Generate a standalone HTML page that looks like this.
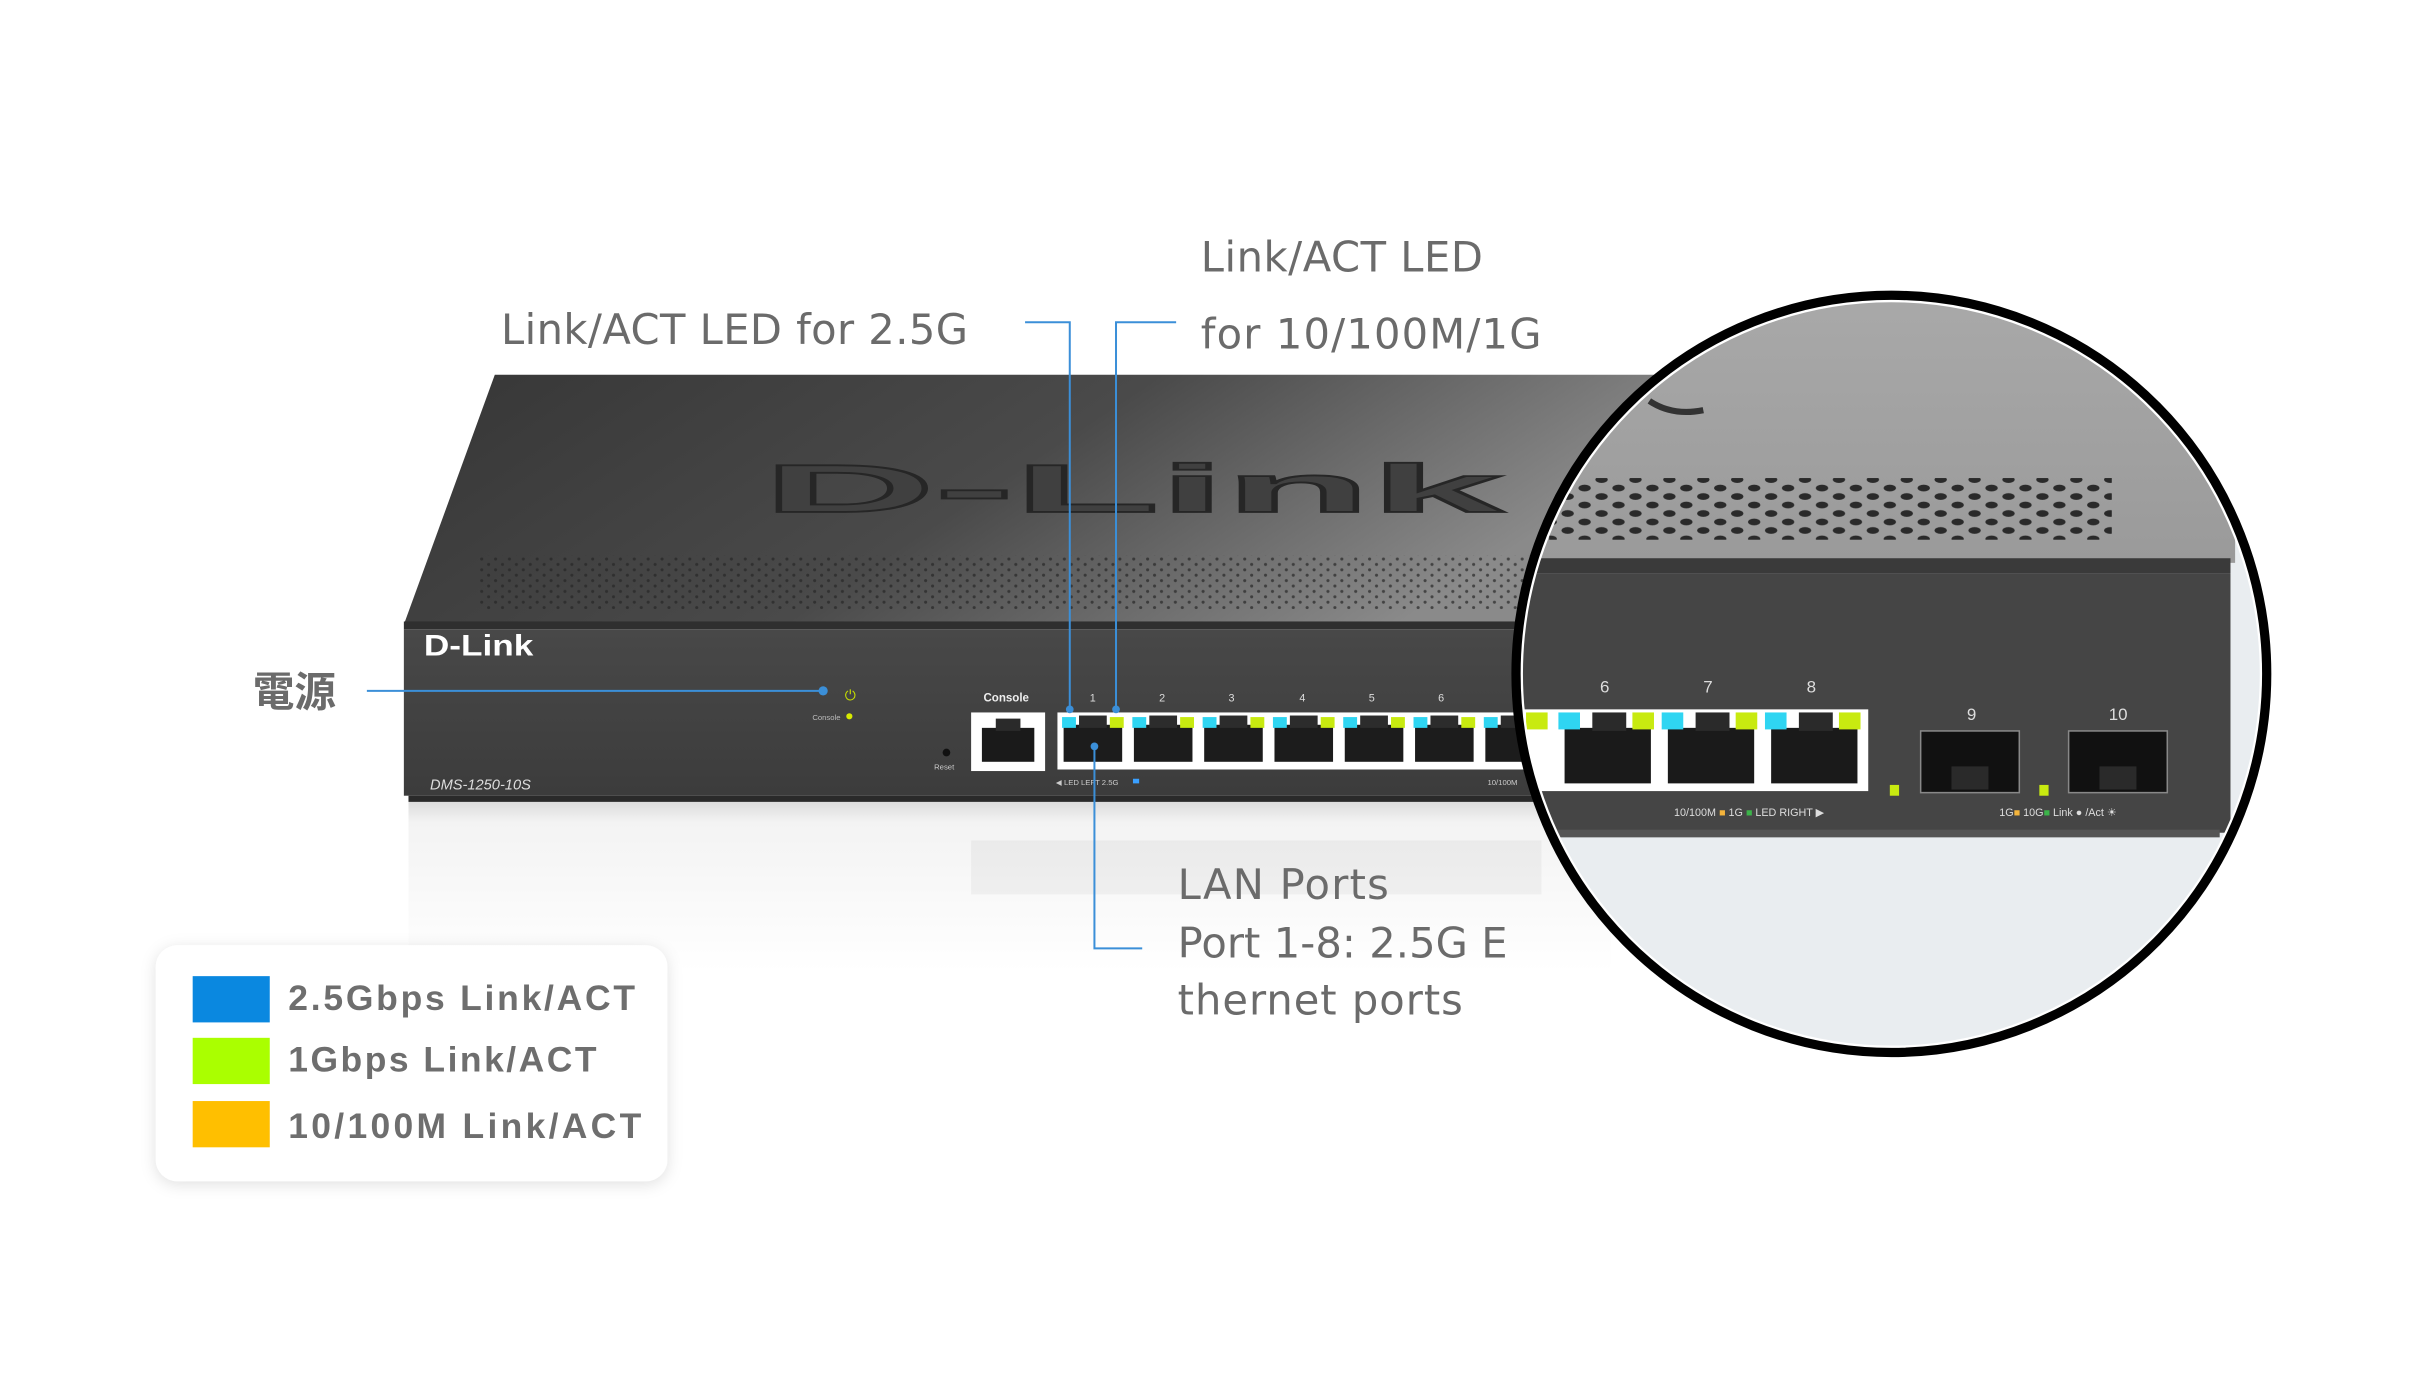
<!DOCTYPE html>
<html><head><meta charset="utf-8"><style>
html,body{margin:0;padding:0;background:#fff;}
svg{display:block;}
text{font-family:"Liberation Sans",sans-serif;}
.lbl{font-family:"DejaVu Sans","Liberation Sans",sans-serif;fill:#6b6b6b;font-size:27px;}
</style></head><body>
<svg width="2417" height="1374" viewBox="0 0 1568 891" preserveAspectRatio="none" xmlns="http://www.w3.org/2000/svg">
<defs>
<linearGradient id="top" x1="0" y1="0" x2="1" y2="0.3">
<stop offset="0" stop-color="#363636"/><stop offset="0.55" stop-color="#4a4a4a"/><stop offset="1" stop-color="#8a8a8a"/></linearGradient>
<linearGradient id="front" x1="0" y1="0" x2="0" y2="1">
<stop offset="0" stop-color="#484848"/><stop offset="1" stop-color="#3c3c3c"/></linearGradient>
<linearGradient id="refl" x1="0" y1="0" x2="0" y2="1">
<stop offset="0" stop-color="#dcdcdc"/><stop offset="0.12" stop-color="#f3f3f3"/><stop offset="1" stop-color="#fff"/></linearGradient>
<linearGradient id="ctop" x1="0" y1="0" x2="0" y2="1">
<stop offset="0" stop-color="#a9a9a9"/><stop offset="1" stop-color="#9a9a9a"/></linearGradient>
<pattern id="vent" width="9" height="7" patternUnits="userSpaceOnUse"><circle cx="2" cy="2" r="1" fill="#262626"/><circle cx="6.5" cy="5.5" r="1" fill="#262626"/></pattern>
<pattern id="vent2" width="22" height="11" patternUnits="userSpaceOnUse"><ellipse cx="5" cy="3" rx="4" ry="2.2" fill="#2a2a2a"/><ellipse cx="16" cy="8.5" rx="4" ry="2.2" fill="#2a2a2a"/></pattern>
<clipPath id="cc"><ellipse cx="1227" cy="437" rx="240" ry="242"/></clipPath>
<filter id="sh" x="-10%" y="-10%" width="120%" height="130%"><feDropShadow dx="0" dy="2" stdDeviation="5" flood-color="#000" flood-opacity="0.12"/></filter>
</defs>

<!-- reflection -->
<rect x="265" y="520" width="780" height="110" fill="url(#refl)"/>
<g opacity="0.06"><rect x="630" y="545" width="370" height="35" fill="#555"/></g>

<!-- top face -->
<polygon points="321,243 1080,243 1080,405 262,405" fill="url(#top)"/>
<rect x="310" y="360" width="690" height="35" fill="url(#vent)" opacity="0.7"/>
<text x="495" y="332" font-family="Liberation Serif" font-size="44" font-weight="bold" fill="#404040" stroke="#262626" stroke-width="1.2" textLength="480" lengthAdjust="spacingAndGlyphs">D-Link</text>
<!-- front face -->
<rect x="262" y="403" width="800" height="5" fill="#2f2f2f"/>
<rect x="262" y="408" width="800" height="108" fill="url(#front)"/>
<rect x="265" y="516" width="797" height="4" fill="#2a2a2a"/>
<text x="275" y="425" font-family="Liberation Serif" font-weight="bold" font-size="19" fill="#fff" textLength="71" lengthAdjust="spacingAndGlyphs">D-Link</text>
<text x="279" y="512" font-size="9.5" font-style="italic" fill="#ddd">DMS-1250-10S</text>
<text x="548" y="454" font-size="9" fill="#c8e000">⏻</text>
<text x="527" y="467" font-size="5" fill="#bbb">Console</text>
<circle cx="551" cy="464.5" r="2" fill="#d7ea00"/>
<circle cx="614" cy="488" r="2.5" fill="#111"/>
<text x="606" y="499" font-size="5" fill="#ccc">Reset</text>
<text x="638" y="455" font-size="7.5" font-weight="bold" fill="#eee">Console</text>
<rect x="630" y="462" width="48" height="38" fill="#fff"/>
<rect x="637" y="472" width="34" height="22" fill="#1a1a1a"/>
<rect x="646" y="466" width="16" height="8" fill="#2a2a2a"/>
<!-- ports 1-8 -->
<rect x="686" y="462" width="320" height="37" fill="#fff"/>
<g id="ports">
<g><rect x="690" y="470" width="38" height="24" fill="#1c1c1c"/><rect x="700" y="464" width="18" height="8" fill="#2c2c2c"/><rect x="689" y="465" width="9" height="7" fill="#2fd5f2"/><rect x="720" y="465" width="9" height="7" fill="#c8ea10"/></g>
</g>
<use href="#ports" x="45.6"/><use href="#ports" x="91.2"/><use href="#ports" x="136.8"/><use href="#ports" x="182.4"/><use href="#ports" x="228"/><use href="#ports" x="273.6"/>
<g font-size="7" fill="#ddd"><text x="707" y="455">1</text><text x="752" y="455">2</text><text x="797" y="455">3</text><text x="843" y="455">4</text><text x="888" y="455">5</text><text x="933" y="455">6</text></g>
<text x="685" y="509" font-size="5" fill="#ccc">◀ LED LEFT  2.5G</text><rect x="735" y="505" width="4" height="3" fill="#3aa0ff"/>
<text x="965" y="509" font-size="5" fill="#ccc">10/100M</text>

<!-- circle content -->
<g clip-path="url(#cc)">
<rect x="980" y="190" width="500" height="500" fill="#e9edf0"/>
<rect x="980" y="190" width="470" height="175" fill="url(#ctop)"/>
<path d="M1070,260 q15,10 35,6" stroke="#333" stroke-width="4" fill="none"/>
<rect x="1005" y="310" width="365" height="40" fill="url(#vent2)"/>
<rect x="980" y="362" width="467" height="10" fill="#3a3a3a"/>
<rect x="980" y="372" width="467" height="168" fill="#454545"/>
<rect x="980" y="538" width="460" height="5" fill="#555"/>
<rect x="980" y="460" width="232" height="53" fill="#fff"/>
<g id="bp"><rect x="1015" y="472" width="56" height="36" fill="#1a1a1a"/><rect x="1033" y="462" width="22" height="12" fill="#2a2a2a"/><rect x="1011" y="462" width="14" height="11" fill="#2fd5f2"/><rect x="1059" y="462" width="14" height="11" fill="#c8ea10"/></g>
<use href="#bp" x="67"/><use href="#bp" x="134"/>
<rect x="990" y="462" width="14" height="11" fill="#c8ea10"/>
<g font-size="11" fill="#ddd"><text x="1038" y="449">6</text><text x="1105" y="449">7</text><text x="1172" y="449">8</text><text x="1276" y="467">9</text><text x="1368" y="467">10</text></g>
<rect x="1226" y="509" width="6" height="7" fill="#c8ea10"/>
<rect x="1323" y="509" width="6" height="7" fill="#c8ea10"/>
<g id="sfp"><rect x="1246" y="474" width="64" height="40" fill="#111" stroke="#888" stroke-width="1"/><rect x="1266" y="497" width="24" height="15" fill="#2a2a2a"/></g>
<use href="#sfp" x="96"/>
<text x="1086" y="529" font-size="7" fill="#ddd">10/100M <tspan fill="#f4b43c">■</tspan> 1G <tspan fill="#3cb44a">■</tspan>  LED RIGHT ▶</text>
<text x="1297" y="529" font-size="7" fill="#ddd">1G<tspan fill="#f4b43c">■</tspan>  10G<tspan fill="#3cb44a">■</tspan>  Link ● /Act ☀</text>
</g>
<ellipse cx="1227" cy="437" rx="240" ry="242" fill="none" stroke="#fff" stroke-width="2"/>
<ellipse cx="1227" cy="437" rx="243.5" ry="245.5" fill="none" stroke="#000" stroke-width="6"/>

<!-- connectors -->
<g stroke="#3b8fd8" stroke-width="1.3" fill="none">
<polyline points="665,209 694,209 694,460"/>
<polyline points="763,209 724,209 724,460"/>
<line x1="238" y1="448" x2="534" y2="448"/>
<polyline points="710,484 710,615 741,615"/>
</g>
<g fill="#3b8fd8"><circle cx="694" cy="460" r="2.5"/><circle cx="724" cy="460" r="2.5"/><circle cx="534" cy="448" r="3"/><circle cx="710" cy="484" r="2.5"/></g>

<!-- labels -->
<text class="lbl" x="325" y="223" textLength="303">Link/ACT LED for 2.5G</text>
<text class="lbl" x="779" y="176" textLength="183">Link/ACT LED</text>
<text class="lbl" x="779" y="226" textLength="221">for 10/100M/1G</text>
<text class="lbl" x="164" y="458" font-weight="bold" style="font-family:'Noto Sans CJK TC',sans-serif">電源</text>
<text class="lbl" x="764" y="583" textLength="137">LAN Ports</text>
<text class="lbl" x="764" y="621" textLength="214">Port 1-8: 2.5G E</text>
<text class="lbl" x="764" y="658" textLength="185">thernet ports</text>

<!-- legend -->
<rect x="101" y="613" width="332" height="153" rx="14" fill="#fff" filter="url(#sh)"/>
<rect x="125" y="633" width="50" height="30" fill="#0a88e0"/>
<rect x="125" y="673" width="50" height="30" fill="#aaff00"/>
<rect x="125" y="714" width="50" height="30" fill="#ffbf00"/>
<g font-family="DejaVu Sans,sans-serif" font-size="23" fill="#6e6e6e" font-weight="bold">
<text x="187" y="655" textLength="225">2.5Gbps Link/ACT</text>
<text x="187" y="695" textLength="200">1Gbps Link/ACT</text>
<text x="187" y="738" textLength="229">10/100M Link/ACT</text>
</g>
</svg>
</body></html>
